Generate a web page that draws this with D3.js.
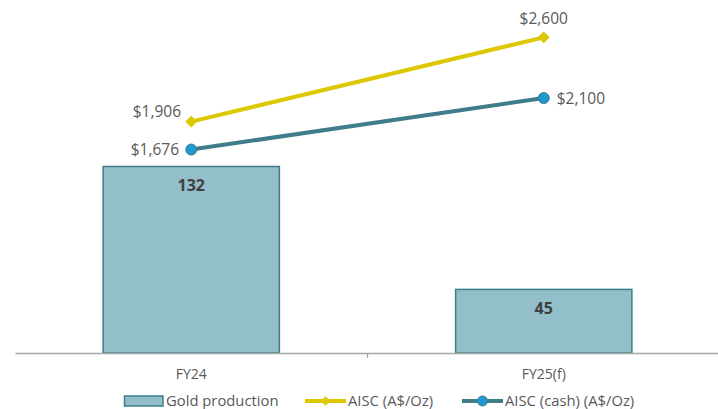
<!DOCTYPE html>
<html><head><meta charset="utf-8">
<script src="https://cdn.jsdelivr.net/npm/d3@7"></script>
<style>body{margin:0;background:#fff}svg{display:block}text{font-family:"Open Sans","Noto Sans",sans-serif}</style>
</head><body><svg id="c" width="718" height="409"></svg>
<script>
const categories = ["FY24", "FY25(f)"];
const goldProduction = [132, 45];
const aisc = [1906, 2600];
const aiscCash = [1676, 2100];
const seriesNames = ["Gold production", "AISC (A$/Oz)", "AISC (cash) (A$/Oz)"];

const svg = d3.select("#c");
const x = d3.scaleBand().domain(categories).range([15, 720]).paddingInner(0).paddingOuter(0);
const yBar = d3.scaleLinear().domain([0, 250]).range([353, 353 - 250 * 1.413]);
const yLine = d3.scaleLinear().domain([0, 3000]).range([353, 353 - 3000 * 0.1214]);
const cx = c => x(c) + x.bandwidth() / 2;
const barW = x.bandwidth() * 0.5;
const textCol = "#595959";
const diamondType = d3.symbolDiamond2 || d3.symbolDiamond;

// bars
svg.selectAll("rect.bar").data(categories).join("rect")
  .attr("x", c => cx(c) - barW / 2)
  .attr("y", (c, i) => yBar(goldProduction[i]))
  .attr("width", barW)
  .attr("height", (c, i) => yBar(0) - yBar(goldProduction[i]))
  .attr("fill", "#93BFCB").attr("stroke", "#3E7D89").attr("stroke-width", 1.5);

svg.selectAll("text.bl").data(categories).join("text")
  .attr("x", cx).attr("y", (c, i) => yBar(goldProduction[i]) + 25)
  .attr("text-anchor", "middle").attr("font-weight", "bold").attr("font-size", 16)
  .attr("fill", "#404040").text((c, i) => goldProduction[i]);

// axis
const ax = svg.append("g").attr("transform", "translate(0,353)")
  .call(d3.axisBottom(x).tickSize(0).tickFormat(""));
ax.select(".domain").attr("stroke", "#A6A6A6").attr("stroke-width", 1.3);
svg.append("line").attr("x1", x(categories[1])).attr("x2", x(categories[1]))
  .attr("y1", 353).attr("y2", 358).attr("stroke", "#A6A6A6").attr("stroke-width", 1.3);
svg.selectAll("text.cat").data(categories).join("text")
  .attr("x", cx).attr("y", 379).attr("text-anchor", "middle")
  .attr("font-size", 14).attr("fill", textCol).text(d => d);

// lines
const fmt = v => "$" + d3.format(",")(v);
const line = yv => d3.line().x((d, i) => cx(categories[i])).y(d => yv(d));
svg.append("path").datum(aisc).attr("d", line(yLine)).attr("fill", "none")
  .attr("stroke", "#DCC700").attr("stroke-width", 4);
svg.append("path").datum(aiscCash).attr("d", line(yLine)).attr("fill", "none")
  .attr("stroke", "#3E7D89").attr("stroke-width", 4);
const diamond = d3.symbol().type(diamondType).size(90);
svg.selectAll("path.dm").data(aisc).join("path")
  .attr("transform", (d, i) => `translate(${cx(categories[i])},${yLine(d)})`)
  .attr("d", diamond).attr("fill", "#DCC700");
svg.selectAll("circle.cm").data(aiscCash).join("circle")
  .attr("cx", (d, i) => cx(categories[i])).attr("cy", d => yLine(d)).attr("r", 5.5)
  .attr("fill", "#1E9AD0").attr("stroke", "#3E7D89").attr("stroke-width", 1);

// line labels
svg.append("text").attr("x", 181).attr("y", yLine(aisc[0]) - 5).attr("text-anchor", "end")
  .attr("font-size", 15.5).attr("fill", textCol).text(fmt(aisc[0]));
svg.append("text").attr("x", cx(categories[1])).attr("y", yLine(aisc[1]) - 13).attr("text-anchor", "middle")
  .attr("font-size", 15.5).attr("fill", textCol).text(fmt(aisc[1]));
svg.append("text").attr("x", 179).attr("y", yLine(aiscCash[0]) + 5.5).attr("text-anchor", "end")
  .attr("font-size", 15.5).attr("fill", textCol).text(fmt(aiscCash[0]));
svg.append("text").attr("x", cx(categories[1]) + 13).attr("y", yLine(aiscCash[1]) + 5.5).attr("text-anchor", "start")
  .attr("font-size", 15.5).attr("fill", textCol).text(fmt(aiscCash[1]));

// legend
const lg = svg.append("g");
lg.append("rect").attr("x", 124.5).attr("y", 396).attr("width", 38.5).attr("height", 10)
  .attr("fill", "#93BFCB").attr("stroke", "#3E7D89").attr("stroke-width", 1.5);
lg.append("text").attr("x", 166).attr("y", 406).attr("font-size", 14.8).attr("fill", textCol).text(seriesNames[0]);
lg.append("line").attr("x1", 305).attr("x2", 346).attr("y1", 401).attr("y2", 401)
  .attr("stroke", "#DCC700").attr("stroke-width", 4);
lg.append("path").attr("transform", "translate(325.5,401)").attr("d", d3.symbol().type(diamondType).size(60)).attr("fill", "#DCC700");
lg.append("text").attr("x", 348).attr("y", 406).attr("font-size", 14.8).attr("fill", textCol).text(seriesNames[1]);
lg.append("line").attr("x1", 462).attr("x2", 503).attr("y1", 401).attr("y2", 401)
  .attr("stroke", "#3E7D89").attr("stroke-width", 4);
lg.append("circle").attr("cx", 482.5).attr("cy", 401).attr("r", 5)
  .attr("fill", "#1E9AD0").attr("stroke", "#3E7D89").attr("stroke-width", 1);
lg.append("text").attr("x", 505).attr("y", 406).attr("font-size", 14.8).attr("fill", textCol).text(seriesNames[2]);
</script></body></html>
